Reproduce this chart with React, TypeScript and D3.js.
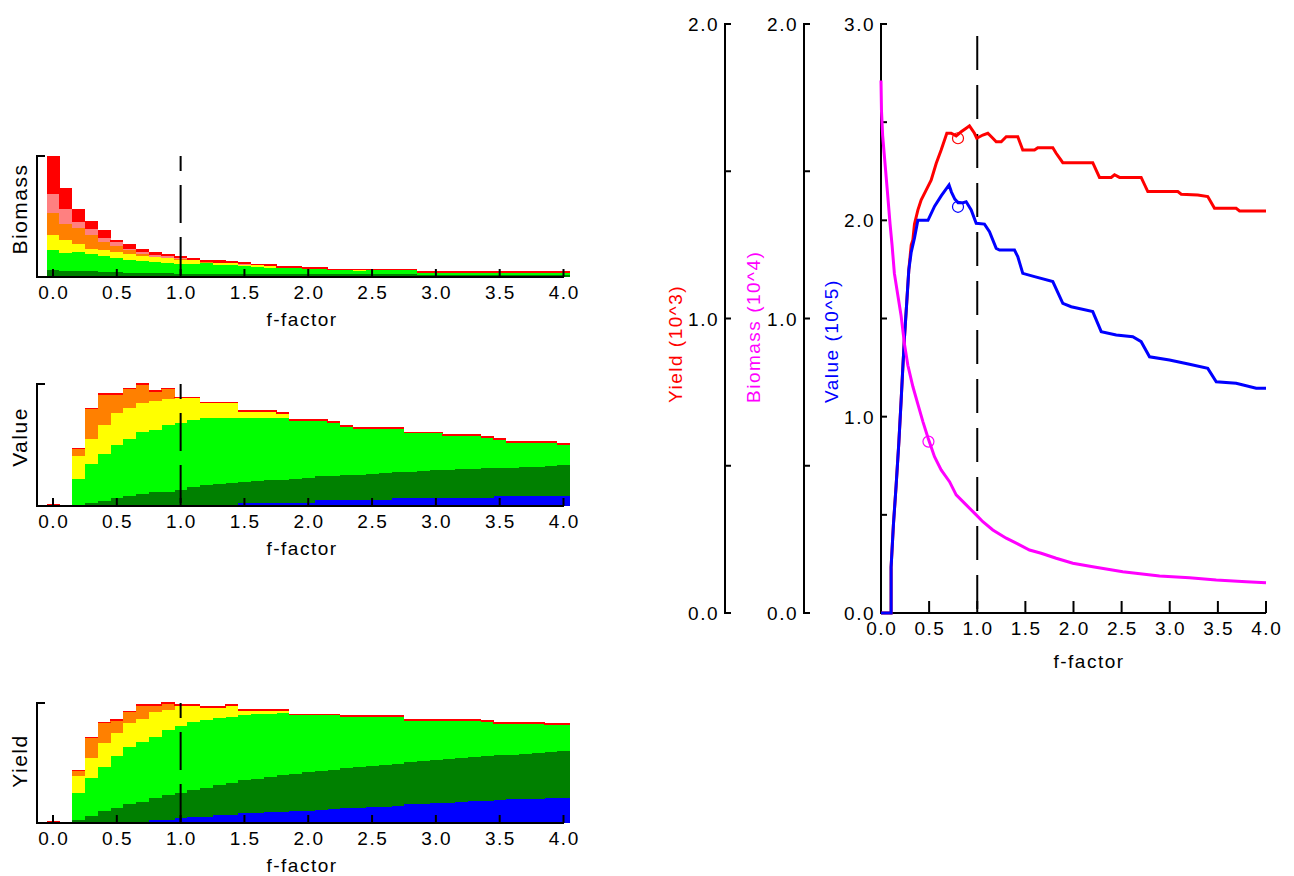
import React from 'react';
import * as d3 from 'd3';

// ---------- DATA ----------
const fFactors = [0.0, 0.1, 0.2, 0.3, 0.4, 0.5, 0.6, 0.7, 0.8, 0.9, 1.0, 1.1, 1.2, 1.3, 1.4, 1.5, 1.6, 1.7, 1.8, 1.9, 2.0,
  2.1, 2.2, 2.3, 2.4, 2.5, 2.6, 2.7, 2.8, 2.9, 3.0, 3.1, 3.2, 3.3, 3.4, 3.5, 3.6, 3.7, 3.8, 3.9, 4.0];

const xTickValues = [0, 0.5, 1, 1.5, 2, 2.5, 3, 3.5, 4];
const xTickLabels = ['0.0', '0.5', '1.0', '1.5', '2.0', '2.5', '3.0', '3.5', '4.0'];

const layerKeys = ['blue', 'darkGreen', 'green', 'yellow', 'orange', 'pink', 'red'];
const layerColors: Record<string, string> = {
  blue: '#0000ff', darkGreen: '#008000', green: '#00ff00', yellow: '#ffff00',
  orange: '#ff8000', pink: '#ff8080', red: '#ff0000',
};

// Biomass panel (relative units, full panel height = 100)
const bmBlue = [0, 0, 0, 0, 0, 0, 0, 0, 0, 0, 0, 0, 0, 0, 0, 0, 0, 0, 0, 0, 0, 0, 0, 0, 0, 0, 0, 0, 0, 0, 0, 0, 0, 0, 0, 0, 0, 0, 0, 0, 0];
const bmDarkGreen = [5.5, 5.0, 5.0, 5.0, 4.1, 4.1, 3.3, 3.3, 3.3, 3.3, 2.8, 2.8, 2.8, 2.8, 2.8, 2.2, 2.2, 2.2, 2.2, 2.2,
  2.8, 2.8, 2.8, 2.8, 2.8, 2.2, 2.2, 2.2, 2.2, 1.9, 1.9, 1.9, 1.9, 1.9, 1.9, 1.9, 1.9, 1.9, 1.9, 1.9, 1.9];
const bmGreen = [16.6, 14.9, 15.7, 13.8, 13.0, 11.9, 11.0, 9.9, 9.1, 8.3, 8.3, 8.3, 8.8, 6.9, 6.9, 6.6, 6.1, 5.5, 5.5, 5.5,
  4.1, 4.1, 2.7, 2.7, 2.1, 3.3, 3.3, 3.3, 3.3, 1.7, 1.7, 1.1, 1.7, 1.7, 1.7, 1.7, 1.7, 1.7, 1.7, 1.7, 1.1];
const bmYellow = [12.4, 11.0, 6.4, 4.7, 5.0, 4.7, 4.4, 3.9, 4.1, 4.4, 3.3, 2.8, 0, 2.2, 1.9, 1.4, 1.4, 1.1, 0, 0,
  0, 0, 0, 0, 0.6, 0, 0, 0, 0, 0, 0, 0.6, 0, 0, 0, 0, 0, 0, 0, 0, 0.6];
const bmOrange = [18.5, 13.3, 13.0, 11.0, 6.9, 4.7, 3.3, 2.2, 0, 0, 0.8, 0, 0.8, 0, 0, 0, 0, 0, 0, 0,
  0, 0, 0, 0, 0, 0, 0, 0, 0, 0, 0, 0, 0, 0, 0, 0, 0, 0, 0, 0, 0];
const bmPink = [16.0, 11.6, 5.5, 5.5, 3.6, 3.6, 1.4, 1.4, 1.9, 1.1, 0.6, 0, 0, 0, 0, 0.8, 0, 0, 0, 0,
  0, 0, 0, 0, 0, 0, 0, 0, 0, 0, 0, 0, 0, 0, 0, 0, 0, 0, 0, 0, 0];
const bmRed = [30.9, 17.4, 11.0, 6.1, 6.1, 1.9, 3.6, 2.8, 2.2, 1.7, 1.4, 2.2, 1.9, 1.9, 1.4, 1.4, 1.4, 2.2, 1.7, 1.7,
  1.4, 1.4, 1.4, 1.4, 1.4, 1.4, 1.4, 1.4, 1.4, 1.4, 1.4, 1.4, 1.4, 1.4, 1.4, 1.4, 1.4, 1.4, 1.4, 1.4, 1.4];

// Value panel
const vBlue = [0, 0, 0, 0, 0, 0, 0, 0, 0, 0, 0, 0, 0, 0, 0, 2.5, 2.5, 2.5, 2.5, 2.5,
  2.5, 4.7, 4.7, 4.7, 4.7, 4.7, 4.7, 6.6, 6.6, 6.6, 6.6, 6.6, 6.6, 6.6, 6.6, 8.2, 8.2, 8.2, 8.2, 8.2, 8.2];
const vDarkGreen = [0, 0, 0, 2.5, 4.1, 6.6, 7.9, 9.6, 11.2, 11.5, 13.4, 15.6, 17.0, 18.4, 18.9, 17.3, 17.8, 18.6, 19.2, 20.0,
  20.8, 19.7, 19.7, 20.5, 21.1, 21.9, 22.5, 21.4, 21.4, 22.2, 23.3, 23.3, 23.8, 24.1, 24.9, 23.3, 23.3, 23.8, 23.8, 24.4, 25.5];
const vGreen = [0, 0, 22.5, 32.3, 38.4, 43.3, 47.4, 51.2, 51.5, 54.8, 54.8, 55.3, 54.8, 53.4, 52.9, 52.1, 51.5, 50.7, 50.1, 47.3,
  46.5, 45.4, 43.7, 39.7, 37.3, 36.4, 35.8, 35.0, 31.5, 30.7, 29.6, 27.7, 27.2, 26.9, 24.4, 22.5, 20.5, 20.0, 20.0, 19.4, 16.7];
const vYellow = [0, 0, 18.4, 20.5, 23.8, 26.0, 25.2, 23.3, 23.6, 21.1, 20.0, 17.3, 12.3, 12.3, 12.3, 5.5, 5.5, 5.5, 3.6, 0,
  0, 0, 0, 0, 0, 0, 0, 0, 0, 0, 0, 0, 0, 0, 0, 0, 0, 0, 0, 0, 0];
const vOrange = [0, 0, 5.5, 23.8, 24.7, 15.1, 15.1, 15.1, 7.4, 8.2, 0, 0, 0, 0, 0, 0, 0, 0, 0, 0,
  0, 0, 0, 0, 0, 0, 0, 0, 0, 0, 0, 0, 0, 0, 0, 0, 0, 0, 0, 0, 0];
const vPink = [0, 0, 0, 0, 0, 0, 0, 0, 0, 0, 0, 0, 0, 0, 0, 0, 0, 0, 0, 0, 0, 0, 0, 0, 0, 0, 0, 0, 0, 0, 0, 0, 0, 0, 0, 0, 0, 0, 0, 0, 0];
const vRed = [1.4, 0, 1.5, 1.4, 1.4, 1.4, 1.4, 1.4, 1.4, 1.4, 1.4, 1.4, 1.4, 1.4, 1.4, 1.4, 1.4, 1.4, 1.4, 1.4,
  1.4, 1.4, 1.4, 1.4, 1.4, 1.4, 1.4, 1.4, 1.4, 1.4, 1.4, 1.4, 1.4, 1.4, 1.4, 1.4, 1.4, 1.4, 1.4, 1.4, 1.4];

// Yield panel
const yBlue = [0, 0, 0, 0, 0, 0, 0, 0, 2.5, 2.5, 3.8, 4.7, 4.7, 6.6, 6.6, 8.2, 8.2, 9.3, 9.3, 10.2,
  10.2, 11.0, 11.5, 12.1, 12.9, 13.7, 13.7, 14.3, 15.7, 15.7, 16.5, 17.0, 17.6, 18.4, 18.4, 19.2, 19.8, 20.3, 20.3, 21.2, 21.2];
const yDarkGreen = [0, 0, 2.7, 6.0, 10.2, 12.1, 15.7, 17.6, 18.7, 20.6, 20.9, 22.5, 24.7, 24.7, 26.9, 27.5, 28.6, 29.1, 31.0, 31.0,
  32.1, 32.1, 33.0, 33.8, 33.8, 34.1, 34.9, 35.2, 34.9, 35.7, 35.7, 36.3, 36.5, 36.5, 37.1, 37.1, 37.1, 37.4, 37.9, 37.6, 38.5];
const yGreen = [0, 0, 22.0, 31.6, 36.5, 43.4, 47.5, 50.3, 50.8, 54.4, 56.0, 57.1, 56.3, 55.8, 54.9, 54.1, 53.8, 52.7, 51.4, 48.6,
  47.5, 46.7, 45.3, 42.6, 41.8, 40.7, 39.9, 39.0, 34.3, 33.5, 32.7, 31.6, 30.8, 30.0, 28.9, 26.6, 26.0, 25.2, 24.7, 22.8, 21.9];
const yYellow = [0, 0, 14.3, 16.5, 19.8, 19.8, 19.8, 18.4, 20.6, 16.5, 16.8, 13.2, 10.2, 8.8, 9.1, 3.6, 2.7, 2.2, 1.6, 0,
  0, 0, 0, 0, 0, 0, 0, 0, 0, 0, 0, 0, 0, 0, 0, 0, 0, 0, 0, 0, 0];
const yOrange = [0, 0, 4.1, 16.5, 16.5, 9.6, 9.1, 11.3, 4.9, 5.5, 0, 0, 0, 0, 0, 0, 0, 0, 0, 0,
  0, 0, 0, 0, 0, 0, 0, 0, 0, 0, 0, 0, 0, 0, 0, 0, 0, 0, 0, 0, 0];
const yPink = [0, 0, 0, 0, 0, 0, 0, 0, 0, 0, 0, 0, 0, 0, 0, 0, 0, 0, 0, 0, 0, 0, 0, 0, 0, 0, 0, 0, 0, 0, 0, 0, 0, 0, 0, 0, 0, 0, 0, 0, 0];
const yRed = [1.4, 0, 1.4, 1.4, 1.4, 1.4, 1.4, 1.4, 1.4, 1.4, 1.4, 1.4, 1.4, 1.4, 1.4, 1.4, 1.4, 1.4, 1.4, 1.4,
  1.4, 1.4, 1.4, 1.4, 1.4, 1.4, 1.4, 1.4, 1.4, 1.4, 1.4, 1.4, 1.4, 1.4, 1.4, 1.4, 1.4, 1.4, 1.4, 1.4, 1.4];

// Right chart curves
const yieldF = [0, 0.105, 0.105, 0.129, 0.157, 0.185, 0.209, 0.226, 0.244, 0.268, 0.289, 0.314, 0.331, 0.348, 0.383, 0.417,
  0.469, 0.521, 0.574, 0.625, 0.684, 0.729, 0.781, 0.833, 0.885, 0.919, 0.971, 0.995, 1.058, 1.11, 1.162, 1.197, 1.249,
  1.301, 1.421, 1.473, 1.595, 1.629, 1.785, 1.82, 1.889, 2.2, 2.27, 2.392, 2.426, 2.478, 2.703, 2.772, 3.084, 3.119,
  3.291, 3.395, 3.465, 3.69, 3.725, 4.0];
const yieldVals = [0, 0, 0.156, 0.300, 0.432, 0.577, 0.721, 0.829, 0.937, 1.057, 1.165, 1.249, 1.267, 1.321, 1.368, 1.402,
  1.436, 1.470, 1.527, 1.572, 1.629, 1.629, 1.620, 1.634, 1.646, 1.654, 1.629, 1.612, 1.623, 1.629, 1.612, 1.600, 1.600,
  1.617, 1.617, 1.572, 1.572, 1.580, 1.580, 1.561, 1.529, 1.529, 1.479, 1.479, 1.488, 1.479, 1.479, 1.431, 1.431, 1.422,
  1.419, 1.414, 1.374, 1.374, 1.365, 1.365];

const valueF = [0, 0.105, 0.105, 0.129, 0.157, 0.185, 0.209, 0.226, 0.244, 0.268, 0.289, 0.314, 0.348, 0.383, 0.488, 0.557,
  0.627, 0.707, 0.732, 0.767, 0.801, 0.854, 0.885, 0.937, 0.989, 1.075, 1.127, 1.197, 1.231, 1.387, 1.421, 1.473, 1.595,
  1.785, 1.889, 1.976, 2.2, 2.288, 2.444, 2.616, 2.703, 2.79, 2.997, 3.205, 3.395, 3.483, 3.69, 3.898, 4.0];
const valueVals = [0, 0, 0.234, 0.450, 0.649, 0.865, 1.081, 1.243, 1.405, 1.586, 1.748, 1.838, 1.910, 2.0, 2.0, 2.072,
  2.126, 2.180, 2.144, 2.108, 2.090, 2.090, 2.095, 2.053, 1.985, 1.981, 1.942, 1.857, 1.849, 1.849, 1.815, 1.730, 1.713,
  1.688, 1.577, 1.560, 1.535, 1.433, 1.416, 1.407, 1.382, 1.305, 1.289, 1.267, 1.246, 1.178, 1.170, 1.145, 1.145];

const biomassF = [0, 0.005, 0.017, 0.045, 0.07, 0.094, 0.115, 0.139, 0.174, 0.209, 0.244, 0.279, 0.331, 0.383, 0.436,
  0.488, 0.556, 0.625, 0.712, 0.781, 0.885, 0.989, 1.058, 1.162, 1.301, 1.405, 1.543, 1.664, 1.82, 1.993, 2.2, 2.512,
  2.894, 3.205, 3.483, 3.794, 4.0];
const biomassVals = [1.808, 1.706, 1.622, 1.514, 1.417, 1.321, 1.249, 1.153, 1.081, 1.009, 0.913, 0.841, 0.769, 0.709,
  0.649, 0.595, 0.531, 0.486, 0.446, 0.401, 0.367, 0.333, 0.310, 0.282, 0.254, 0.237, 0.214, 0.203, 0.186, 0.169, 0.157,
  0.140, 0.126, 0.120, 0.112, 0.106, 0.103];

// Reference markers (f, value)
const yieldMarker = [0.8, 1.612];
const valueMarker = [0.8, 2.069];
const biomassMarker = [0.493, 0.582];

const leftYTicks = [0, 0.5, 1, 1.5, 2];
const leftYLabels = ['0.0', '', '1.0', '', '2.0'];
const mainYTicks = [0, 0.5, 1, 1.5, 2, 2.5, 3];
const mainYLabels = ['0.0', '', '1.0', '', '2.0', '', '3.0'];

// ---------- LAYOUT ----------
const FONT = '"Liberation Sans", Arial, sans-serif';
const FS = 19;
const LS = 1.5;

const panels = [
  { label: 'Biomass', top: 156, bottom: 277, labelY: 209,
    series: { blue: bmBlue, darkGreen: bmDarkGreen, green: bmGreen, yellow: bmYellow, orange: bmOrange, pink: bmPink, red: bmRed } },
  { label: 'Value', top: 384, bottom: 506, labelY: 437,
    series: { blue: vBlue, darkGreen: vDarkGreen, green: vGreen, yellow: vYellow, orange: vOrange, pink: vPink, red: vRed } },
  { label: 'Yield', top: 703, bottom: 823, labelY: 761,
    series: { blue: yBlue, darkGreen: yDarkGreen, green: yGreen, yellow: yYellow, orange: yOrange, pink: yPink, red: yRed } },
];

const xSmall = d3.scaleLinear().domain([0, 4]).range([53, 563.5]);
const bracketX = 37;
const axisEndX = 564;

function StackPanel({ p }: { p: typeof panels[number] }) {
  const y = d3.scaleLinear().domain([0, 100]).range([p.bottom, p.top]);
  const rows = fFactors.map((f, i) => {
    const r: Record<string, number> = { f };
    layerKeys.forEach(k => { r[k] = (p.series as any)[k][i]; });
    return r;
  });
  const stacked = d3.stack<Record<string, number>>().keys(layerKeys)(rows);
  const bw = xSmall(0.1) - xSmall(0);
  return (
    <g>
      {stacked.map(layer => (
        <g key={layer.key} fill={layerColors[layer.key]}>
          {layer.map((d, i) => {
            const h = y(d[0]) - y(d[1]);
            if (h <= 0.01) return null;
            return <rect key={i} x={xSmall(fFactors[i]) - bw / 2} y={y(d[1])} width={bw + 0.3} height={h} shapeRendering="crispEdges" />;
          })}
        </g>
      ))}
      {/* dashed reference line at f = 1 */}
      <line x1={xSmall(1)} x2={xSmall(1)} y1={p.top} y2={p.bottom} stroke="#000" strokeWidth={2}
        strokeDasharray="38 14" strokeDashoffset={23} />
      {/* bracket axis */}
      <path d={`M${bracketX + 8},${p.top} H${bracketX} V${p.bottom} H${axisEndX}`} fill="none" stroke="#000" strokeWidth={2} />
      {xTickValues.map((t, i) => (
        <g key={i}>
          <line x1={xSmall(t)} x2={xSmall(t)} y1={p.bottom} y2={p.bottom - 8} stroke="#000" strokeWidth={2} />
          <text x={xSmall(t) + LS / 2} y={p.bottom + 22} textAnchor="middle" fontFamily={FONT} fontSize={FS} letterSpacing={LS}>{xTickLabels[i]}</text>
        </g>
      ))}
      <text x={302} y={p.bottom + 49} textAnchor="middle" fontFamily={FONT} fontSize={FS} letterSpacing={LS}>f-factor</text>
      <text transform={`translate(26.5,${p.labelY}) rotate(-90)`} textAnchor="middle" fontFamily={FONT} fontSize={21} letterSpacing={LS}>{p.label}</text>
    </g>
  );
}

const R_LEFT = 881, R_RIGHT = 1266, R_TOP = 24, R_BOTTOM = 613;
const xR = d3.scaleLinear().domain([0, 4]).range([R_LEFT, R_RIGHT]);
const yYield = d3.scaleLinear().domain([0, 2]).range([R_BOTTOM, R_TOP]);
const yBiomass = d3.scaleLinear().domain([0, 2]).range([R_BOTTOM, R_TOP]);
const yValue = d3.scaleLinear().domain([0, 3]).range([R_BOTTOM, R_TOP]);

function VAxis({ x, scale, ticks, labels }: { x: number; scale: d3.ScaleLinear<number, number>; ticks: number[]; labels: string[] }) {
  return (
    <g>
      <line x1={x} x2={x} y1={R_TOP - 1} y2={R_BOTTOM + 1} stroke="#000" strokeWidth={2} />
      {ticks.map((t, i) => (
        <g key={i}>
          <line x1={x} x2={x + 6} y1={scale(t)} y2={scale(t)} stroke="#000" strokeWidth={2} />
          {labels[i] && (
            <text x={x - 6} y={scale(t) + 7} textAnchor="end" fontFamily={FONT} fontSize={FS} letterSpacing={LS}>{labels[i]}</text>
          )}
        </g>
      ))}
    </g>
  );
}

function RightChart() {
  const mk = (fs: number[], vs: number[], ys: d3.ScaleLinear<number, number>) =>
    d3.line<number>().x((_, i) => xR(fs[i])).y((v) => ys(v))(vs) || '';
  return (
    <g>
      <VAxis x={725} scale={yYield} ticks={leftYTicks} labels={leftYLabels} />
      <VAxis x={804} scale={yBiomass} ticks={leftYTicks} labels={leftYLabels} />
      <VAxis x={R_LEFT} scale={yValue} ticks={mainYTicks} labels={mainYLabels} />
      <line x1={R_LEFT} x2={R_RIGHT} y1={R_BOTTOM} y2={R_BOTTOM} stroke="#000" strokeWidth={2} />
      {xTickValues.map((t, i) => (
        <g key={i}>
          {t > 0 && <line x1={xR(t)} x2={xR(t)} y1={R_BOTTOM} y2={R_BOTTOM - 12} stroke="#000" strokeWidth={2} />}
          <text x={xR(t) + LS / 2} y={R_BOTTOM + 22} textAnchor="middle" fontFamily={FONT} fontSize={FS} letterSpacing={LS}>{xTickLabels[i]}</text>
        </g>
      ))}
      <text x={1089} y={R_BOTTOM + 55} textAnchor="middle" fontFamily={FONT} fontSize={FS} letterSpacing={LS}>f-factor</text>

      <line x1={xR(1)} x2={xR(1)} y1={R_TOP} y2={R_BOTTOM} stroke="#000" strokeWidth={2} strokeDasharray="34 15" strokeDashoffset={37} />

      <path d={mk(yieldF, yieldVals, yYield)} fill="none" stroke="#ff0000" strokeWidth={3} />
      <path d={mk(valueF, valueVals, yValue)} fill="none" stroke="#0000ff" strokeWidth={3} />
      <path d={mk(biomassF, biomassVals, yBiomass)} fill="none" stroke="#ff00ff" strokeWidth={3} />

      <circle cx={xR(yieldMarker[0])} cy={yYield(yieldMarker[1])} r={5.5} fill="none" stroke="#ff0000" strokeWidth={1.2} />
      <circle cx={xR(valueMarker[0])} cy={yValue(valueMarker[1])} r={5.5} fill="none" stroke="#0000ff" strokeWidth={1.2} />
      <circle cx={xR(biomassMarker[0])} cy={yBiomass(biomassMarker[1])} r={5.5} fill="none" stroke="#ff00ff" strokeWidth={1.2} />

      <text transform={`translate(682,403) rotate(-90)`} textAnchor="start" fontFamily={FONT} fontSize={FS} letterSpacing={LS} fill="#ff0000">Yield (10^3)</text>
      <text transform={`translate(760,403) rotate(-90)`} textAnchor="start" fontFamily={FONT} fontSize={FS} letterSpacing={LS} fill="#ff00ff">Biomass (10^4)</text>
      <text transform={`translate(838,403) rotate(-90)`} textAnchor="start" fontFamily={FONT} fontSize={FS} letterSpacing={LS} fill="#0000ff">Value (10^5)</text>
    </g>
  );
}

export default function App() {
  return (
    <svg width={1294} height={876} viewBox="0 0 1294 876"
      style={{ position: 'absolute', left: 0, top: 0, background: '#fff', display: 'block' }}>
      <rect x={0} y={0} width={1294} height={876} fill="#fff" />
      {panels.map(p => <StackPanel key={p.label} p={p} />)}
      <RightChart />
    </svg>
  );
}
